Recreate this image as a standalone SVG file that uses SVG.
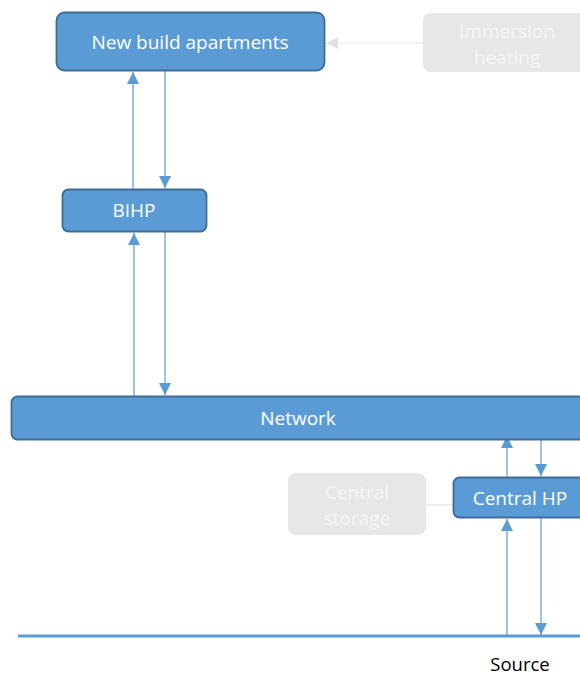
<svg xmlns="http://www.w3.org/2000/svg" width="580" height="675" viewBox="0 0 580 675">
<style>
.node{fill:#5B9BD5;stroke:#3E6C97;stroke-width:1.8}
.ghost{fill:#E7E7E7;stroke:none}
.t{font-family:"Open Sans","Liberation Sans",sans-serif;font-size:19px;fill:#FFFFFF;text-anchor:middle}
.tg{font-family:"Open Sans","Liberation Sans",sans-serif;font-size:19px;fill:#F7F7F7;text-anchor:middle}
.tb{font-family:"Open Sans","Liberation Sans",sans-serif;font-size:18.5px;fill:#000000;text-anchor:middle}
.c{stroke:#5B9BD5;stroke-width:1.2;fill:none}
.cg{stroke:#E5E5E5;stroke-width:1.2;fill:none}
</style>
<defs>
<marker id="a" markerWidth="12" markerHeight="12" refX="12" refY="6" orient="auto" markerUnits="userSpaceOnUse" viewBox="0 0 12 12"><path d="M0,0 L12,6 L0,12 z" fill="#5B9BD5"/></marker>
<marker id="ag" markerWidth="12" markerHeight="12" refX="12" refY="6" orient="auto" markerUnits="userSpaceOnUse" viewBox="0 0 12 12"><path d="M0,0 L12,6 L0,12 z" fill="#E0E0E0"/></marker>
</defs>
<g id="connectors">
<line class="cg" x1="423" y1="43" x2="326" y2="43" marker-end="url(#ag)"/>
<line class="c" x1="133" y1="189" x2="133" y2="72" marker-end="url(#a)"/>
<line class="c" x1="165" y1="71" x2="165" y2="188" marker-end="url(#a)"/>
<line class="c" x1="134" y1="396" x2="134" y2="233" marker-end="url(#a)"/>
<line class="c" x1="165" y1="232" x2="165" y2="395" marker-end="url(#a)"/>
<line class="cg" x1="426" y1="505" x2="453" y2="505"/>
<line class="c" x1="507" y1="477" x2="507" y2="436" marker-end="url(#a)"/>
<line class="c" x1="541" y1="440" x2="541" y2="476" marker-end="url(#a)"/>
<line class="c" x1="507" y1="636" x2="507" y2="519" marker-end="url(#a)"/>
<line class="c" x1="541" y1="518" x2="541" y2="635" marker-end="url(#a)"/>
</g>
<g id="immersion">
<rect class="ghost" x="423" y="13" width="170" height="59" rx="8"/>
<text class="tg" x="507" y="38">Immersion</text>
<text class="tg" x="507" y="64">heating</text>
</g>
<g id="apartments">
<rect class="node" x="56.5" y="12.5" width="268" height="58" rx="8"/>
<text class="t" x="190" y="49">New build apartments</text>
</g>
<g id="bihp">
<rect class="node" x="62.5" y="189.5" width="144" height="42" rx="6"/>
<text class="t" x="134" y="217">BIHP</text>
</g>
<g id="network">
<rect class="node" x="11.5" y="396.5" width="580" height="43" rx="6"/>
<text class="t" x="298" y="425">Network</text>
</g>
<g id="storage">
<rect class="ghost" x="288" y="473" width="138" height="62" rx="8"/>
<text class="tg" x="357" y="499">Central</text>
<text class="tg" x="357" y="525">storage</text>
</g>
<g id="centralhp">
<rect class="node" x="453.5" y="477.5" width="140" height="40" rx="6"/>
<text class="t" x="520" y="505">Central HP</text>
</g>
<g id="source">
<line x1="18" y1="636" x2="580" y2="636" stroke="#5B9BD5" stroke-width="3"/>
<text class="tb" x="520" y="671">Source</text>
</g>
</svg>
